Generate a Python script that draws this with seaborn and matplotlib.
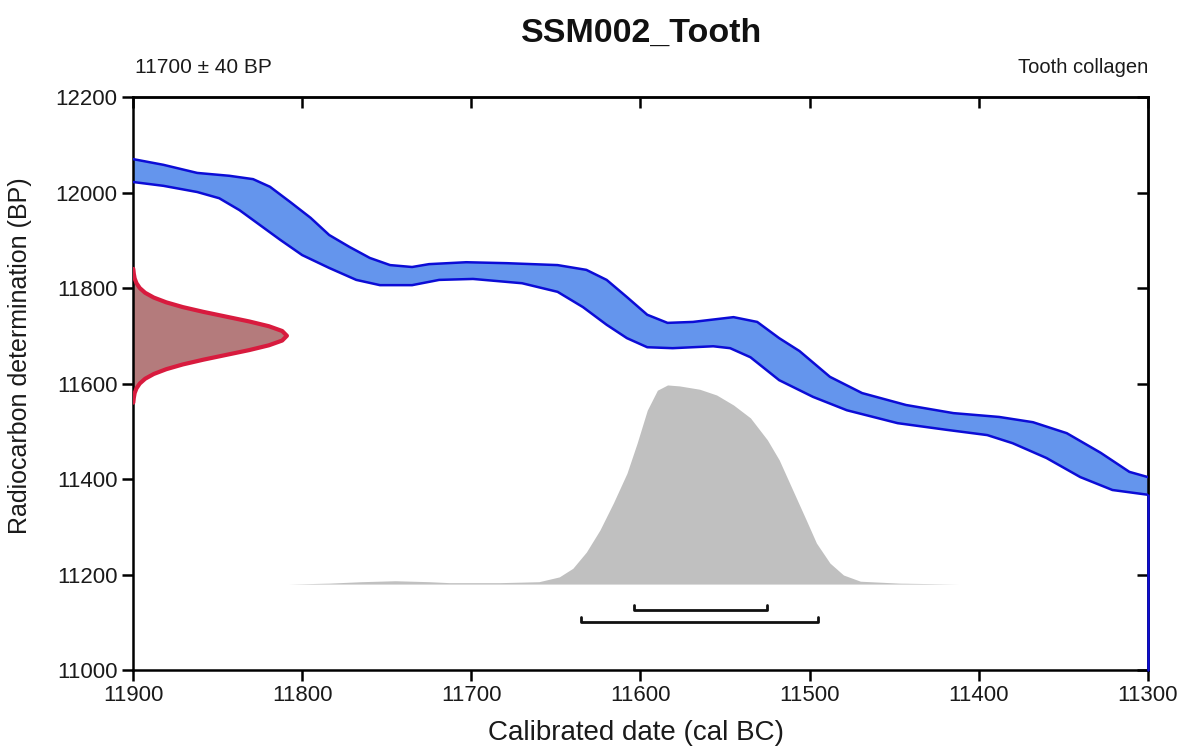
import numpy as np
import matplotlib
matplotlib.use("Agg")
import matplotlib.pyplot as plt
import seaborn as sns

# calibration curve band, upper and lower edge (cal BC, BP)
UP_CAL = [11900, 11882, 11862, 11843, 11829, 11819, 11807, 11795, 11784, 11772, 11760, 11748,
          11735, 11725, 11703, 11679, 11649, 11632, 11620, 11608, 11596, 11584, 11569, 11545,
          11531, 11518, 11506, 11488, 11469, 11443, 11415, 11388, 11368, 11348, 11328, 11311, 11300]
UP_BP = [12070, 12058, 12041, 12035, 12028, 12012, 11980, 11947, 11911, 11886, 11863, 11848,
         11844, 11850, 11854, 11852, 11848, 11838, 11817, 11781, 11744, 11727, 11729, 11739,
         11729, 11695, 11668, 11614, 11580, 11555, 11538, 11530, 11519, 11496, 11455, 11415, 11404]
LO_CAL = [11900, 11882, 11862, 11849, 11837, 11825, 11813, 11800, 11784, 11768, 11754, 11735,
          11719, 11699, 11670, 11649, 11634, 11620, 11608, 11596, 11581, 11557, 11547, 11535,
          11518, 11498, 11478, 11448, 11419, 11395, 11380, 11360, 11340, 11321, 11300]
LO_BP = [12022, 12014, 12001, 11988, 11963, 11932, 11901, 11869, 11842, 11817, 11806, 11806,
         11817, 11819, 11810, 11792, 11760, 11723, 11695, 11676, 11674, 11678, 11674, 11655,
         11607, 11572, 11544, 11517, 11503, 11492, 11475, 11444, 11404, 11377, 11367]

# radiocarbon measurement 11700 +/- 40 BP (height drawn in years off the left axis)
RED_BP = [11840, 11830, 11820, 11810, 11800, 11790, 11780, 11770, 11760, 11750, 11740, 11730,
          11720, 11710, 11700, 11690, 11680, 11670, 11660, 11650, 11640, 11630, 11620, 11610,
          11600, 11590, 11580, 11570, 11560]
RED_W = [0.2, 0.5, 1.0, 2.1, 4.0, 7.2, 12.3, 19.7, 29.5, 41.7, 55.2, 68.7, 80.3, 88.2, 91.0,
         88.2, 80.3, 68.7, 55.2, 41.7, 29.5, 19.7, 12.3, 7.2, 4.0, 2.1, 1.0, 0.5, 0.2]

# calibrated distribution
POST_BASE = 11180
POST_CAL = [11808, 11784, 11765, 11745, 11725, 11713, 11683, 11671, 11660, 11648, 11640, 11632,
            11624, 11616, 11608, 11602, 11596, 11590, 11584, 11577, 11565, 11555, 11545, 11535,
            11525, 11518, 11510, 11502, 11496, 11488, 11480, 11470, 11447, 11412]
POST_H = [0, 2, 5, 7, 5, 3, 3, 4, 5, 15, 33, 67, 113, 170, 232, 295, 364, 406, 417, 415, 408,
          396, 375, 348, 302, 260, 197, 134, 86, 44, 19, 6, 2, 0]

# highest density ranges (68.2% and 95.4%)
RANGE_68 = (11604, 11525)
RANGE_95 = (11635, 11495)

XTICKS = [11900, 11800, 11700, 11600, 11500, 11400, 11300]
YTICKS = [11000, 11200, 11400, 11600, 11800, 12000, 12200]

sns.set_theme(style="ticks")
plt.rcParams["font.family"] = ["Liberation Sans", "DejaVu Sans"]

fig = plt.figure(figsize=(11.83, 7.52), dpi=100)
ax = fig.add_axes([0.1124, 0.109, 0.858, 0.762])

# calibration curve
band_x = np.r_[UP_CAL, LO_CAL[::-1]]
band_y = np.r_[UP_BP, LO_BP[::-1]]
ax.fill(band_x, band_y, color="#6495ed", lw=0, zorder=2)
for cx, cy in [(UP_CAL, UP_BP), (LO_CAL, LO_BP)]:
    sns.lineplot(x=cx, y=cy, sort=False, estimator=None, color="#0c0cd6", lw=1.8,
                 solid_joinstyle="round", ax=ax, zorder=3)
ax.plot([LO_CAL[-1], LO_CAL[-1]], [LO_BP[-1], YTICKS[0]], color="#0c0cd6", lw=1.8,
        zorder=3, clip_on=False)

# measurement
red_x = np.array(XTICKS[0]) - np.array(RED_W)
ax.fill_betweenx(RED_BP, XTICKS[0], red_x, color="#b47b7c", lw=0, zorder=2)
sns.lineplot(x=red_x, y=RED_BP, sort=False, estimator=None, orient="y", color="#d81b3e",
             lw=3, solid_joinstyle="round", ax=ax, zorder=3)

# calibrated date
ax.fill_between(POST_CAL, POST_BASE, POST_BASE + np.array(POST_H), color="#c0c0c0", lw=0, zorder=1)

# ranges
for (a, b), lvl in [(RANGE_68, 11126), (RANGE_95, 11101)]:
    ax.plot([a, a, b, b], [lvl + 10, lvl, lvl, lvl + 10], color="#111111", lw=2, zorder=3)

ax.set_xlim(11900, 11300)
ax.set_ylim(11000, 12200)
ax.set_xticks(XTICKS)
ax.set_yticks(YTICKS)
ax.tick_params(direction="out", length=8, width=1.8, labelsize=16, color="black",
               labelcolor="#1a1a1a", pad=3)
for s in ax.spines.values():
    s.set_visible(True)
    s.set_linewidth(1.8)
    s.set_color("black")

secx = ax.secondary_xaxis("top")
secx.set_xticks(XTICKS)
secx.set_xticklabels([])
secx.tick_params(direction="in", length=8, width=1.8, color="black")
secy = ax.secondary_yaxis("right")
secy.set_yticks(YTICKS)
secy.set_yticklabels([])
secy.tick_params(direction="in", length=8, width=1.8, color="black")
for sec in (secx, secy):
    for s in sec.spines.values():
        s.set_linewidth(1.8)

ax.set_xlabel("")
ax.set_ylabel("")
fig.text(0.538, 0.008, "Calibrated date (cal BC)", ha="center", va="bottom", fontsize=20,
         color="#1a1a1a")
fig.text(0.017, 0.527, "Radiocarbon determination (BP)", ha="center", va="center",
         rotation=90, fontsize=18, color="#1a1a1a")
fig.text(0.542, 0.956, "SSM002_Tooth", ha="center", va="center", fontsize=24.5,
         fontweight="bold", color="#111111")
ax.text(0.002, 1.052, "11700 \u00b1 40 BP", transform=ax.transAxes, ha="left", va="center",
        fontsize=15, color="#1a1a1a")
ax.text(1.0, 1.052, "Tooth collagen", transform=ax.transAxes, ha="right", va="center",
        fontsize=14.5, color="#1a1a1a")

fig.savefig("out.png", dpi=100)
